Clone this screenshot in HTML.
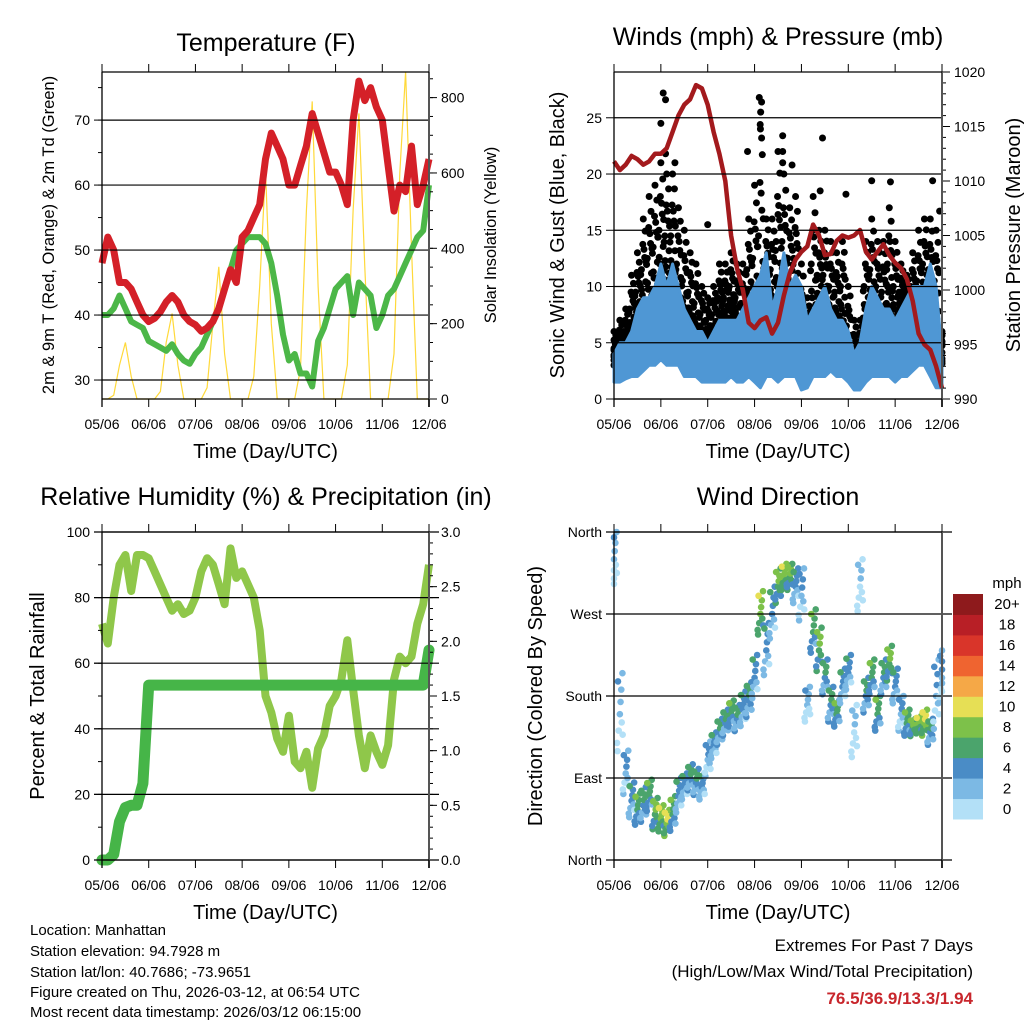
<!DOCTYPE html>
<html><head><meta charset="utf-8"><style>
html,body{margin:0;padding:0;background:#fff;}
svg{display:block;font-family:"Liberation Sans",Arial,sans-serif;}
</style></head><body>
<svg id="svg" width="1024" height="1024" viewBox="0 0 1024 1024" xmlns="http://www.w3.org/2000/svg">
<rect width="1024" height="1024" fill="#fff"/>
<g id="layer"></g>
<text x="266" y="51" font-size="25" text-anchor="middle">Temperature (F)</text>
<text x="778" y="45" font-size="25" text-anchor="middle">Winds (mph) &amp; Pressure (mb)</text>
<text x="266" y="505" font-size="25" text-anchor="middle">Relative Humidity (%) &amp; Precipitation (in)</text>
<text x="778" y="505" font-size="25" text-anchor="middle">Wind Direction</text>
<text transform="translate(54,235) rotate(-90)" font-size="16.5" text-anchor="middle">2m &amp; 9m T (Red, Orange) &amp; 2m Td (Green)</text>
<text transform="translate(496,235) rotate(-90)" font-size="16.5" text-anchor="middle">Solar Insolation (Yellow)</text>
<text transform="translate(564,235) rotate(-90)" font-size="20" text-anchor="middle">Sonic Wind &amp; Gust (Blue, Black)</text>
<text transform="translate(1020,235) rotate(-90)" font-size="20" text-anchor="middle">Station Pressure (Maroon)</text>
<text transform="translate(44,696) rotate(-90)" font-size="20" text-anchor="middle">Percent &amp; Total Rainfall</text>
<text transform="translate(542,696) rotate(-90)" font-size="20" text-anchor="middle">Direction (Colored By Speed)</text>
<g font-size="15">
<text x="30" y="935">Location: Manhattan</text>
<text x="30" y="956">Station elevation: 94.7928 m</text>
<text x="30" y="977">Station lat/lon: 40.7686; -73.9651</text>
<text x="30" y="997">Figure created on Thu, 2026-03-12, at 06:54 UTC</text>
<text x="30" y="1017">Most recent data timestamp: 2026/03/12 06:15:00</text>
</g>
<g font-size="17" text-anchor="end">
<text x="973" y="951">Extremes For Past 7 Days</text>
<text x="973" y="977">(High/Low/Max Wind/Total Precipitation)</text>
<text x="973" y="1004" fill="#c8262c" font-weight="bold">76.5/36.9/13.3/1.94</text>
</g>
</svg>
<script>
const dayLabels = ["05/06","06/06","07/06","08/06","09/06","10/06","11/06","12/06"];
const tempF = [48,52,50,45,45,44,42,40,39,39.5,40.5,42,43,42,40,39,38.5,37.5,38,39,41,44,47,45,52,53,55,57,64,68,66,64,60,60,63,66,71,68,65,62,62,60,57,70,76,73,75,72,70,63,56,60,59,66,57,60,64];
const dewF = [40,40,41,43,41,39,38.5,38,36,35.5,35,34.5,35.5,34,33,32.5,34,35,37,39,41,44,47,50,51,52,52,52,51,48,43,37,33,34,31,31,29,36,38,41,44,45,46,40,45,44,43,38,40,43,44,46,48,50,52,53,60];
const solar = [0,0,10,90,150,60,0,0, 0,0,20,150,227,90,0,0, 0,0,30,200,351,120,0,0, 0,0,60,300,608,200,0,0, 0,0,80,500,790,300,0,0, 0,0,90,500,758,350,0,0, 0,0,120,600,869,400,0,0, 0];
const windHigh = [4,5,5,6,8,9,9,10,12,10,12,10,8,7,6,6,5,6,7,7,7,7,8,9,10,11,13,8,10,13,10,11,10,7,8,9,10,8,7,7,6,4,5,8,10,9,8,8,7,8,9,10,10,10,12,10,4];
const windLow = [1.5,1.5,1.8,2,2,2.5,3,3,3.5,3,3,3,2,2,2,1.5,1.5,1.5,1.5,1.5,2,1.5,1.5,2,1.5,1,2,2,1.5,2,2,2,0.8,1,2,2,2,2.5,2,2,1.5,0.8,0.8,1.5,2,2,2,2,1.5,2,2,2.5,3,3,2,1,1];
const gustHigh = [6,7,8,11,13,16,18,19,21,20,20,17,15,13,12,10,9,10,12,12,13,12,12,16,19,24,16,16,22,20,17,18,12,9,18,15,15,14,13,14,10,7,7,14,16,14,14,17,14,12,11,13,15,16,16,15,6];
const gustLow = [3,3.5,4,5,6,7,7,8,9,9,9,7,6,6,5,5,5,5,6,6,7,6,5,7,6,5,8,7,6,8,8,7,3,3,6,7,7,6,6,6,3,2,2.5,6,7,6,5,7,6,7,8,7,6,8,7,6,3];
const gustOutlierDay = [1.05,1.1,1.0,1.3,1.1,3.1,3.15,3.13,3.12,3.15,3.6,3.6,3.6,3.8,2.85,4.45,4.95,5.5,5.9,6.8,6.95,2.0,3.5,4.4];
const gustOutlierMph = [27.2,26.6,24.5,21,21.8,26.8,26.4,25.5,24.4,23.2,23.4,22,21,20.8,22,23.2,18.2,19.4,19.3,19.4,16.7,15.5,16.4,18.5];
const pressure = [1011.8,1011,1011.5,1012.3,1012,1011.5,1011.8,1012.5,1012.5,1013,1014.5,1016,1017,1017.5,1018.8,1018.5,1017,1014.5,1012.5,1010,1005,1002,1000,997,996.5,997.2,997.5,996,997,999.5,1001.5,1002.8,1003.5,1004,1006,1005,1003.2,1003.3,1004.5,1005,1004.8,1005,1005.5,1003.5,1002.8,1003.5,1004.2,1003.2,1002.5,1002,1001,999,996,995,994.5,993,991];
const humidity = [72,66,80,90,93,82,93,93,92,88,84,80,76,78,75,76,80,88,92,90,84,78,95,86,88,84,80,70,50,45,37,33,44,30,28,33,22,34,38,47,50,55,67,52,38,28,38,33,29,35,55,62,60,62,72,78,90];
const precip = [0,0,0.05,0.35,0.48,0.5,0.5,0.7,1.6,1.6,1.6,1.6,1.6,1.6,1.6,1.6,1.6,1.6,1.6,1.6,1.6,1.6,1.6,1.6,1.6,1.6,1.6,1.6,1.6,1.6,1.6,1.6,1.6,1.6,1.6,1.6,1.6,1.6,1.6,1.6,1.6,1.6,1.6,1.6,1.6,1.6,1.6,1.6,1.6,1.6,1.6,1.6,1.6,1.6,1.6,1.6,1.92];
const dirMain = [330,160,95,65,55,60,70,50,45,40,50,70,80,90,85,80,110,125,140,150,160,155,165,175,200,270,230,270,300,310,310,300,290,170,250,230,200,170,160,190,205,140,300,180,200,160,200,215,190,160,150,145,148,150,140,180,200];
const dirSpread = [30,45,25,20,18,20,18,18,15,15,20,20,15,15,15,15,20,15,15,15,15,15,20,20,25,25,30,30,20,15,15,20,30,20,25,25,20,20,15,20,20,30,30,20,20,20,20,20,20,20,15,10,10,15,15,40,30];
const dirSpeed = [2,2,3,4,6,5,6,7,8,9,6,4,4,5,5,4,3,4,5,5,6,5,4,5,4,8,4,4,7,8,7,4,3,2,6,7,5,5,6,4,4,1,1,5,6,6,5,7,4,3,6,7,8,9,5,3,3];
const speedColors = ["#b3e0f7","#7cb9e4","#4a8cc6","#4ba46c","#7dc14a","#e6df55","#f5a847","#ef6430","#d9352a","#b81f26","#8e1a1c"];
const speedLabels = ["0","2","4","6","8","10","12","14","16","18","20+"];

const NS="http://www.w3.org/2000/svg";
const layer=document.getElementById('layer');
function mk(tag,attrs,parent){const e=document.createElementNS(NS,tag);for(const k in attrs)e.setAttribute(k,attrs[k]);(parent||layer).appendChild(e);return e;}
const STEP=0.125;
const P1={x0:102,x1:429,y0:72,y1:399}, P2={x0:614,x1:942,y0:72,y1:399}, P3={x0:102,x1:429,y0:532,y1:860}, P4={x0:614,x1:942,y0:532,y1:860};
function xs(p,t){return p.x0+Math.max(0,Math.min(7,t))/7*(p.x1-p.x0);}
function ys(p,v,lo,hi){return p.y1-(v-lo)/(hi-lo)*(p.y1-p.y0);}
function lineFrom(p,arr,lo,hi){return arr.map((v,i)=>(i?'L':'M')+xs(p,i*STEP).toFixed(1)+' '+ys(p,v,lo,hi).toFixed(1)).join(' ');}

function frame(p,leftTicks,lo,hi,minor,rightTicks,rlo,rhi,rminor,rfmt,gridExt,lfmt){
  leftTicks.forEach(v=>{const y=ys(p,v,lo,hi);
    const g=mk('line',{x1:gridExt?p.x0-8:p.x0,x2:gridExt?p.x1+10:p.x1,y1:y,y2:y,stroke:'#000','stroke-width':1.2});
    
    
    mk('line',{x1:p.x0-8,x2:p.x0,y1:y,y2:y,stroke:'#000','stroke-width':1});
    const tx=mk('text',{x:p.x0-12,y:y+5,'font-size':14,'text-anchor':'end'});tx.textContent=lfmt?lfmt(v):v;
    
    
  });
  if(minor>0){ for(let v=lo;v<=hi+1e-9;v+=minor){const y=ys(p,v,lo,hi);mk('line',{x1:p.x0-4,x2:p.x0,y1:y,y2:y,stroke:'#000','stroke-width':1});} }
  if(rightTicks){
    if(rminor>0){ for(let v=rlo;v<=rhi+1e-9;v+=rminor){const y=ys(p,v,rlo,rhi);mk('line',{x1:p.x1,x2:p.x1+4,y1:y,y2:y,stroke:'#000','stroke-width':1});} }
    rightTicks.forEach(v=>{const y=ys(p,v,rlo,rhi);mk('line',{x1:p.x1,x2:p.x1+8,y1:y,y2:y,stroke:'#000','stroke-width':1});
      const tx=mk('text',{x:p.x1+12,y:y+5,'font-size':14});tx.textContent=rfmt?rfmt(v):v;
      
      });
  }
  mk('line',{x1:p.x0,x2:p.x0,y1:p.y0,y2:p.y1+8,stroke:'#000','stroke-width':1.3});
  mk('line',{x1:p.x1,x2:p.x1,y1:p.y0,y2:p.y1+8,stroke:'#555','stroke-width':2});
  mk('line',{x1:p.x0,x2:p.x1,y1:p.y1,y2:p.y1,stroke:'#000','stroke-width':1.3});
  mk('line',{x1:p.x0,x2:p.x1,y1:p.y0,y2:p.y0,stroke:'#000','stroke-width':1.3});
  dayLabels.forEach((d,i)=>{const x=xs(p,i);
    mk('line',{x1:x,x2:x,y1:p.y0-8,y2:p.y0,stroke:'#000','stroke-width':1});
    mk('line',{x1:x,x2:x,y1:p.y1,y2:p.y1+8,stroke:'#000','stroke-width':1});
    const tx=mk('text',{x:x,y:p.y1+30,'font-size':14,'text-anchor':'middle'});tx.textContent=d;
    
    });
  const tt=mk('text',{x:(p.x0+p.x1)/2,y:p.y1+59,'font-size':20,'text-anchor':'middle'});tt.textContent='Time (Day/UTC)';
  
  
}

const TLO=27.08,THI=77.4,SLO=0,SHI=868;
let s=mk('path',{d:lineFrom(P1,solar,SLO,SHI),fill:'none',stroke:'#ffd93a','stroke-width':1.2});


s=mk('path',{d:lineFrom(P1,dewF,TLO,THI),fill:'none',stroke:'#4cb748','stroke-width':6,'stroke-linejoin':'round'});


s=mk('path',{d:lineFrom(P1,tempF,TLO,THI),fill:'none',stroke:'#d42028','stroke-width':7,'stroke-linejoin':'round'});


frame(P1,[30,40,50,60,70],TLO,THI,0,[0,200,400,600,800],SLO,SHI,50,null,false);
for(let v=30;v<=75;v+=5){const y=ys(P1,v,TLO,THI);mk('line',{x1:P1.x0-4,x2:P1.x0,y1:y,y2:y,stroke:'#000'});}

const WLO=0,WHI=29.07,PLO=990,PHI=1020;
function band(p,hiA,loA,lo,hi){let d='M';hiA.forEach((v,i)=>{d+=(i?' L':'')+xs(p,i*STEP).toFixed(1)+' '+ys(p,v,lo,hi).toFixed(1);});
  for(let i=loA.length-1;i>=0;i--)d+=' L'+xs(p,i*STEP).toFixed(1)+' '+ys(p,loA[i],lo,hi).toFixed(1);return d+'Z';}
const gFrac=[0,0.12,0.25,0.38,0.5,0.62,0.75,0.88,1,0.2,0.45,0.7,0.05,0.3,0.58,0.15];
const gOff=[-0.05,0.02,-0.02,0.05,-0.04,0.03,-0.01,0.04,0,0.055,-0.055,0.015,0.035,-0.035,0.06,-0.06];
gustHigh.forEach((v,i)=>{for(let k=0;k<gFrac.length;k++){const g=gustLow[i]+(v-gustLow[i])*gFrac[k];
  const c=mk('circle',{cx:xs(P2,i*STEP+gOff[k]),cy:ys(P2,g,WLO,WHI),r:3.5,fill:'#000'});
  
  }});
gustOutlierDay.forEach((t,i)=>{const c=mk('circle',{cx:xs(P2,t),cy:ys(P2,gustOutlierMph[i],WLO,WHI),r:3.5,fill:'#000'});
  
  });
s=mk('path',{d:band(P2,windHigh,windLow,WLO,WHI),fill:'#4f97d4',stroke:'#4f97d4','stroke-width':3,'stroke-linejoin':'round'});


s=mk('path',{d:lineFrom(P2,pressure,PLO,PHI),fill:'none',stroke:'#a31a1d','stroke-width':4.5,'stroke-linejoin':'round'});


frame(P2,[0,5,10,15,20,25],WLO,WHI,0,[990,995,1000,1005,1010,1015,1020],PLO,PHI,1,null,false);

s=mk('path',{d:lineFrom(P3,humidity,0,100),fill:'none',stroke:'#8fc74a','stroke-width':8,'stroke-linejoin':'round'});


s=mk('path',{d:lineFrom(P3,precip,0,3),fill:'none',stroke:'#46b548','stroke-width':11,'stroke-linejoin':'round','stroke-linecap':'round'});


frame(P3,[0,20,40,60,80,100],0,100,10,[0,0.5,1,1.5,2,2.5,3],0,3,0.1,v=>v.toFixed(1),true);

function speedColor(v){const k=Math.max(0,Math.min(10,Math.floor(v/2)));return speedColors[k];}
const offT=[0,-0.05,0.03,-0.025,0.055,-0.06,0.015,0.04,-0.04,0.06];
const offD=[0,-0.9,0.6,-0.4,1,-0.7,0.3,-0.2,0.8,-0.5];
const offS=[0,-1,1,-2,0.5,-1.5,1.5,-0.5,2,-2.5];
dirMain.forEach((d,i)=>{for(let k=0;k<offT.length;k++){let dd=d+offD[k]*dirSpread[i];dd=Math.max(0,Math.min(360,dd));
  const c=mk('circle',{cx:xs(P4,i*STEP+offT[k]),cy:ys(P4,dd,0,360),r:3.3,fill:speedColor(Math.max(0,dirSpeed[i]+offS[k]))});
  
  }});
const dirNames=["North","East","South","West","North"];
frame(P4,[0,90,180,270,360],0,360,0,null,0,0,0,null,true,v=>dirNames[v/90]);
speedColors.forEach((c,i)=>{const h=225/11;const y=819-(i+1)*h;
  const r=mk('rect',{x:953,y:y,width:30,height:h+0.5,fill:c});
  
  
  const t=mk('text',{x:1007,y:y+h/2+5,'font-size':15,'text-anchor':'middle'});t.textContent=speedLabels[i];
  
  });
const mph=mk('text',{x:1007,y:588,'font-size':15,'text-anchor':'middle'});mph.textContent='mph';


</script>
</body></html>
